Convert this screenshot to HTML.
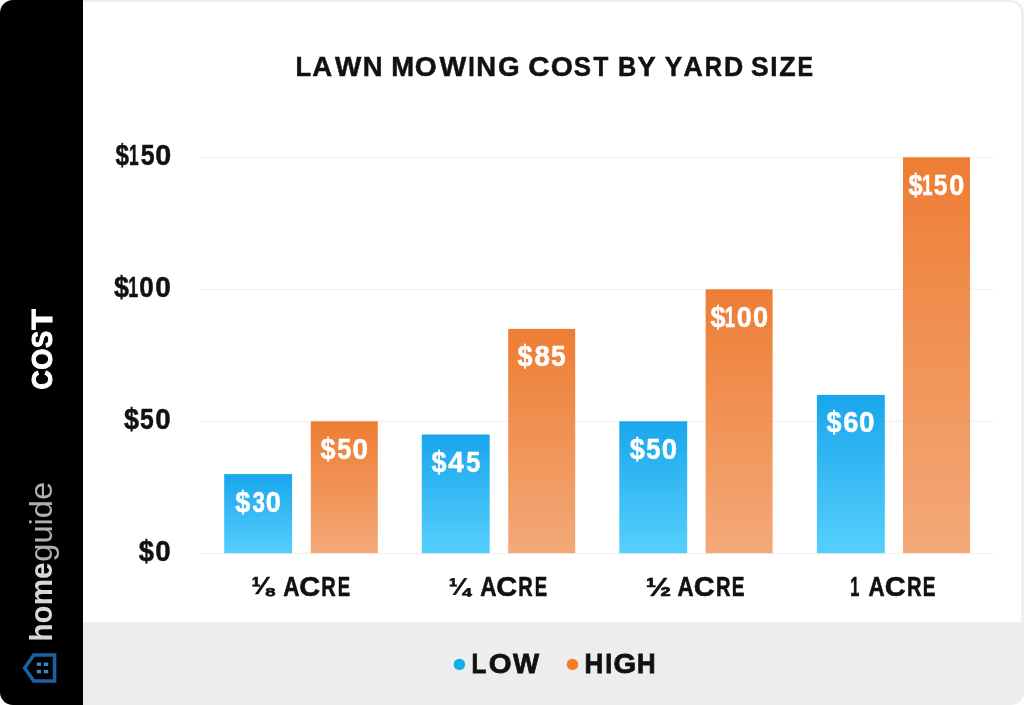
<!DOCTYPE html>
<html lang="en">
<head>
<meta charset="utf-8">
<title>Lawn Mowing Cost by Yard Size</title>
<style>
html,body{margin:0;padding:0;background:#fff;}
body{width:1024px;height:705px;position:relative;overflow:hidden;font-family:"Liberation Sans",sans-serif;}
.card{position:absolute;left:0;top:0;width:1024px;height:705px;border-radius:13px;overflow:hidden;background:#fff;}
.side{position:absolute;left:0;top:0;width:83px;height:705px;background:#000;}
.main{position:absolute;left:83px;top:0;width:941px;height:622px;background:#fff;box-sizing:border-box;border-top:2px solid #ececec;border-right:3px solid #eeeeee;border-top-right-radius:13px;}
.foot{position:absolute;left:83px;top:622px;width:941px;height:83px;background:#ededed;}
svg.txt{position:absolute;left:0;top:0;}
svg.txt text{font-family:"Liberation Sans",sans-serif;}
</style>
</head>
<body>
<div class="card">
  <div class="side"></div>
  <div class="main"></div>
  <div class="foot"></div>

  <svg class="txt" width="1024" height="705" viewBox="0 0 1024 705" role="img" aria-label="Lawn mowing cost by yard size">
    <defs>
      <linearGradient id="gLo" x1="0" y1="0" x2="0" y2="1"><stop offset="0" stop-color="#19a6ec"/><stop offset="1" stop-color="#56cffd"/></linearGradient>
      <linearGradient id="gHi" x1="0" y1="0" x2="0" y2="1"><stop offset="0" stop-color="#ee7d34"/><stop offset="1" stop-color="#f3a979"/></linearGradient>
    </defs>
    <rect x="200" y="156.8" width="793" height="1" fill="#ededed"/>
    <rect x="200" y="288.8" width="793" height="1" fill="#ededed"/>
    <rect x="200" y="420.8" width="793" height="1" fill="#ededed"/>
    <rect x="200" y="552.8" width="793" height="1" fill="#ededed"/>
    <rect x="224.2" y="474.1" width="67.9" height="79.1" fill="url(#gLo)"/>
    <rect x="310.8" y="421.3" width="67.0" height="131.9" fill="url(#gHi)"/>
    <rect x="421.8" y="434.5" width="67.9" height="118.7" fill="url(#gLo)"/>
    <rect x="508.2" y="328.9" width="67.0" height="224.3" fill="url(#gHi)"/>
    <rect x="619.3" y="421.3" width="67.9" height="131.9" fill="url(#gLo)"/>
    <rect x="705.6" y="289.3" width="67.0" height="263.9" fill="url(#gHi)"/>
    <rect x="816.9" y="394.9" width="67.9" height="158.3" fill="url(#gLo)"/>
    <rect x="903.0" y="157.3" width="67.0" height="395.9" fill="url(#gHi)"/>
    <circle cx="459.4" cy="664.4" r="5.7" fill="#14ace8"/>
    <circle cx="572.5" cy="664.4" r="5.7" fill="#f47d28"/>
    <path d="M54.6 655.1 L33.8 655.1 L24.6 668 L33.8 680.9 L54.6 680.9 Z" fill="none" stroke="#1c62a1" stroke-width="3.5" stroke-linejoin="miter"/>
    <rect x="36.7" y="662.5" width="4.3" height="3.5" fill="#3889bb"/>
    <rect x="43.8" y="662.5" width="4.4" height="3.5" fill="#3889bb"/>
    <rect x="36.7" y="669.8" width="4.3" height="3.5" fill="#3889bb"/>
    <rect x="43.8" y="669.8" width="4.4" height="3.5" fill="#3889bb"/>
    <text aria-label="LAWN MOWING COST BY YARD SIZE" y="76.20" font-size="27.9" fill="#111" font-weight="bold" stroke="#111" stroke-width="0.5"><tspan x="295.38" textLength="15.65" lengthAdjust="spacingAndGlyphs">L</tspan><tspan x="312.34" textLength="19.94" lengthAdjust="spacingAndGlyphs">A</tspan><tspan x="335.05" textLength="26.24" lengthAdjust="spacingAndGlyphs">W</tspan><tspan x="362.84" textLength="19.83" lengthAdjust="spacingAndGlyphs">N</tspan> <tspan x="391.32" textLength="22.84" lengthAdjust="spacingAndGlyphs">M</tspan><tspan x="414.73" textLength="21.97" lengthAdjust="spacingAndGlyphs">O</tspan><tspan x="439.40" textLength="26.73" lengthAdjust="spacingAndGlyphs">W</tspan><tspan x="468.18" textLength="6.47" lengthAdjust="spacingAndGlyphs">I</tspan><tspan x="476.37" textLength="19.83" lengthAdjust="spacingAndGlyphs">N</tspan><tspan x="498.01" textLength="21.65" lengthAdjust="spacingAndGlyphs">G</tspan> <tspan x="528.22" textLength="21.35" lengthAdjust="spacingAndGlyphs">C</tspan><tspan x="550.67" textLength="22.26" lengthAdjust="spacingAndGlyphs">O</tspan><tspan x="573.80" textLength="17.26" lengthAdjust="spacingAndGlyphs">S</tspan><tspan x="593.47" textLength="14.83" lengthAdjust="spacingAndGlyphs">T</tspan> <tspan x="618.12" textLength="18.28" lengthAdjust="spacingAndGlyphs">B</tspan><tspan x="637.47" textLength="17.71" lengthAdjust="spacingAndGlyphs">Y</tspan> <tspan x="664.72" textLength="17.49" lengthAdjust="spacingAndGlyphs">Y</tspan><tspan x="683.45" textLength="19.30" lengthAdjust="spacingAndGlyphs">A</tspan><tspan x="704.73" textLength="17.26" lengthAdjust="spacingAndGlyphs">R</tspan><tspan x="723.89" textLength="19.27" lengthAdjust="spacingAndGlyphs">D</tspan> <tspan x="751.09" textLength="17.62" lengthAdjust="spacingAndGlyphs">S</tspan><tspan x="770.31" textLength="7.25" lengthAdjust="spacingAndGlyphs">I</tspan><tspan x="779.18" textLength="16.38" lengthAdjust="spacingAndGlyphs">Z</tspan><tspan x="797.58" textLength="15.53" lengthAdjust="spacingAndGlyphs">E</tspan></text>
    <text aria-label="$150" y="165.10" font-size="29.2" fill="#111" font-weight="bold" stroke="#111" stroke-width="0.5"><tspan x="115.59" textLength="13.46" lengthAdjust="spacingAndGlyphs">$</tspan><tspan x="128.96" textLength="9.59" lengthAdjust="spacingAndGlyphs">1</tspan><tspan x="140.65" textLength="13.86" lengthAdjust="spacingAndGlyphs">5</tspan><tspan x="155.15" textLength="15.96" lengthAdjust="spacingAndGlyphs">0</tspan></text>
    <text aria-label="$100" y="297.10" font-size="29.2" fill="#111" font-weight="bold" stroke="#111" stroke-width="0.5"><tspan x="114.11" textLength="14.95" lengthAdjust="spacingAndGlyphs">$</tspan><tspan x="128.27" textLength="9.95" lengthAdjust="spacingAndGlyphs">1</tspan><tspan x="139.18" textLength="14.47" lengthAdjust="spacingAndGlyphs">0</tspan><tspan x="155.21" textLength="15.60" lengthAdjust="spacingAndGlyphs">0</tspan></text>
    <text aria-label="$50" y="429.10" font-size="29.2" fill="#111" font-weight="bold" stroke="#111" stroke-width="0.5"><tspan x="124.10" textLength="15.02" lengthAdjust="spacingAndGlyphs">$</tspan><tspan x="140.02" textLength="13.74" lengthAdjust="spacingAndGlyphs">5</tspan><tspan x="155.27" textLength="15.39" lengthAdjust="spacingAndGlyphs">0</tspan></text>
    <text aria-label="$0" y="561.10" font-size="29.2" fill="#111" font-weight="bold" stroke="#111" stroke-width="0.5"><tspan x="138.87" textLength="15.22" lengthAdjust="spacingAndGlyphs">$</tspan><tspan x="155.27" textLength="15.39" lengthAdjust="spacingAndGlyphs">0</tspan></text>
    <text aria-label="$30" y="512.00" font-size="28.6" fill="#fff" font-weight="bold" stroke="#fff" stroke-width="0.5"><tspan x="235.35" textLength="15.03" lengthAdjust="spacingAndGlyphs">$</tspan><tspan x="252.48" textLength="12.45" lengthAdjust="spacingAndGlyphs">3</tspan><tspan x="265.77" textLength="15.06" lengthAdjust="spacingAndGlyphs">0</tspan></text>
    <text aria-label="$50" y="459.00" font-size="28.6" fill="#fff" font-weight="bold" stroke="#fff" stroke-width="0.5"><tspan x="320.58" textLength="15.00" lengthAdjust="spacingAndGlyphs">$</tspan><tspan x="337.22" textLength="14.04" lengthAdjust="spacingAndGlyphs">5</tspan><tspan x="352.58" textLength="15.56" lengthAdjust="spacingAndGlyphs">0</tspan></text>
    <text aria-label="$45" y="472.00" font-size="28.6" fill="#fff" font-weight="bold" stroke="#fff" stroke-width="0.5"><tspan x="431.58" textLength="15.00" lengthAdjust="spacingAndGlyphs">$</tspan><tspan x="448.22" textLength="15.68" lengthAdjust="spacingAndGlyphs">4</tspan><tspan x="466.22" textLength="14.04" lengthAdjust="spacingAndGlyphs">5</tspan></text>
    <text aria-label="$85" y="366.00" font-size="28.6" fill="#fff" font-weight="bold" stroke="#fff" stroke-width="0.5"><tspan x="517.58" textLength="15.00" lengthAdjust="spacingAndGlyphs">$</tspan><tspan x="534.48" textLength="15.38" lengthAdjust="spacingAndGlyphs">8</tspan><tspan x="551.05" textLength="14.66" lengthAdjust="spacingAndGlyphs">5</tspan></text>
    <text aria-label="$50" y="459.00" font-size="28.6" fill="#fff" font-weight="bold" stroke="#fff" stroke-width="0.5"><tspan x="629.65" textLength="14.99" lengthAdjust="spacingAndGlyphs">$</tspan><tspan x="646.15" textLength="14.23" lengthAdjust="spacingAndGlyphs">5</tspan><tspan x="661.76" textLength="15.33" lengthAdjust="spacingAndGlyphs">0</tspan></text>
    <text aria-label="$100" y="327.00" font-size="28.6" fill="#fff" font-weight="bold" stroke="#fff" stroke-width="0.5"><tspan x="710.62" textLength="15.01" lengthAdjust="spacingAndGlyphs">$</tspan><tspan x="724.73" textLength="10.37" lengthAdjust="spacingAndGlyphs">1</tspan><tspan x="736.73" textLength="15.05" lengthAdjust="spacingAndGlyphs">0</tspan><tspan x="753.01" textLength="15.12" lengthAdjust="spacingAndGlyphs">0</tspan></text>
    <text aria-label="$60" y="432.00" font-size="28.6" fill="#fff" font-weight="bold" stroke="#fff" stroke-width="0.5"><tspan x="826.58" textLength="15.00" lengthAdjust="spacingAndGlyphs">$</tspan><tspan x="843.24" textLength="15.13" lengthAdjust="spacingAndGlyphs">6</tspan><tspan x="858.91" textLength="15.50" lengthAdjust="spacingAndGlyphs">0</tspan></text>
    <text aria-label="$150" y="195.00" font-size="28.6" fill="#fff" font-weight="bold" stroke="#fff" stroke-width="0.5"><tspan x="908.44" textLength="14.10" lengthAdjust="spacingAndGlyphs">$</tspan><tspan x="921.96" textLength="10.50" lengthAdjust="spacingAndGlyphs">1</tspan><tspan x="933.71" textLength="13.66" lengthAdjust="spacingAndGlyphs">5</tspan><tspan x="949.13" textLength="15.06" lengthAdjust="spacingAndGlyphs">0</tspan></text>
    <text aria-label="⅛ ACRE" font-size="27" fill="#111" font-weight="bold" stroke="#111" stroke-width="0.6"><tspan x="251.30" y="593.90" font-size="23.7" textLength="22.33" lengthAdjust="spacingAndGlyphs">⅛</tspan> <tspan x="283.27" y="596.15" textLength="16.22" lengthAdjust="spacingAndGlyphs">A</tspan><tspan x="299.29" textLength="20.89" lengthAdjust="spacingAndGlyphs">C</tspan><tspan x="321.19" textLength="14.46" lengthAdjust="spacingAndGlyphs">R</tspan><tspan x="337.63" textLength="12.37" lengthAdjust="spacingAndGlyphs">E</tspan></text>
    <text aria-label="¼ ACRE" font-size="27" fill="#111" font-weight="bold" stroke="#111" stroke-width="0.6"><tspan x="448.76" y="594.55" font-size="23.5" textLength="21.45" lengthAdjust="spacingAndGlyphs">¼</tspan> <tspan x="480.27" y="596.15" textLength="16.22" lengthAdjust="spacingAndGlyphs">A</tspan><tspan x="496.29" textLength="20.89" lengthAdjust="spacingAndGlyphs">C</tspan><tspan x="518.19" textLength="14.46" lengthAdjust="spacingAndGlyphs">R</tspan><tspan x="534.63" textLength="12.37" lengthAdjust="spacingAndGlyphs">E</tspan></text>
    <text aria-label="½ ACRE" font-size="27" fill="#111" font-weight="bold" stroke="#111" stroke-width="0.6"><tspan x="645.70" y="596.30" font-size="26.0" textLength="25.60" lengthAdjust="spacingAndGlyphs">½</tspan> <tspan x="677.61" y="596.15" textLength="16.11" lengthAdjust="spacingAndGlyphs">A</tspan><tspan x="693.75" textLength="20.89" lengthAdjust="spacingAndGlyphs">C</tspan><tspan x="715.90" textLength="14.54" lengthAdjust="spacingAndGlyphs">R</tspan><tspan x="731.71" textLength="12.73" lengthAdjust="spacingAndGlyphs">E</tspan></text>
    <text aria-label="1 ACRE" font-size="27" fill="#111" font-weight="bold" stroke="#111" stroke-width="0.6"><tspan x="850.23" y="596.30" font-size="27.7" textLength="9.08" lengthAdjust="spacingAndGlyphs">1</tspan> <tspan x="868.61" y="596.15" textLength="16.11" lengthAdjust="spacingAndGlyphs">A</tspan><tspan x="884.75" textLength="20.89" lengthAdjust="spacingAndGlyphs">C</tspan><tspan x="906.90" textLength="14.54" lengthAdjust="spacingAndGlyphs">R</tspan><tspan x="922.71" textLength="12.73" lengthAdjust="spacingAndGlyphs">E</tspan></text>
    <text aria-label="LOW" y="673.30" font-size="27.9" fill="#111" font-weight="bold" stroke="#111" stroke-width="0.8"><tspan x="471.49" textLength="14.79" lengthAdjust="spacingAndGlyphs">L</tspan><tspan x="488.66" textLength="22.79" lengthAdjust="spacingAndGlyphs">O</tspan><tspan x="513.03" textLength="26.04" lengthAdjust="spacingAndGlyphs">W</tspan></text>
    <text aria-label="HIGH" y="673.30" font-size="27.9" fill="#111" font-weight="bold" stroke="#111" stroke-width="0.8"><tspan x="584.40" textLength="18.80" lengthAdjust="spacingAndGlyphs">H</tspan><tspan x="605.26" textLength="6.94" lengthAdjust="spacingAndGlyphs">I</tspan><tspan x="613.44" textLength="22.64" lengthAdjust="spacingAndGlyphs">G</tspan><tspan x="636.93" textLength="18.59" lengthAdjust="spacingAndGlyphs">H</tspan></text>
    <text aria-label="COST" transform="translate(51.90 700) rotate(-90)" y="0" font-size="28.6" fill="#fff" font-weight="bold" stroke="#fff" stroke-width="1.0"><tspan x="310.48" textLength="19.19" lengthAdjust="spacingAndGlyphs">C</tspan><tspan x="330.14" textLength="21.14" lengthAdjust="spacingAndGlyphs">O</tspan><tspan x="351.94" textLength="17.16" lengthAdjust="spacingAndGlyphs">S</tspan><tspan x="370.25" textLength="20.51" lengthAdjust="spacingAndGlyphs">T</tspan></text>
    <text aria-label="homeguide" transform="translate(52.30 700) rotate(-90)" y="0" font-size="31"><tspan x="58.60" fill="#d8d8d8" font-weight="bold" textLength="78.72" lengthAdjust="spacingAndGlyphs">home</tspan><tspan x="138.27" fill="#b0b0b0" font-weight="normal" textLength="79.92" lengthAdjust="spacingAndGlyphs">guide</tspan></text>
  </svg>
</div>
</body>
</html>
